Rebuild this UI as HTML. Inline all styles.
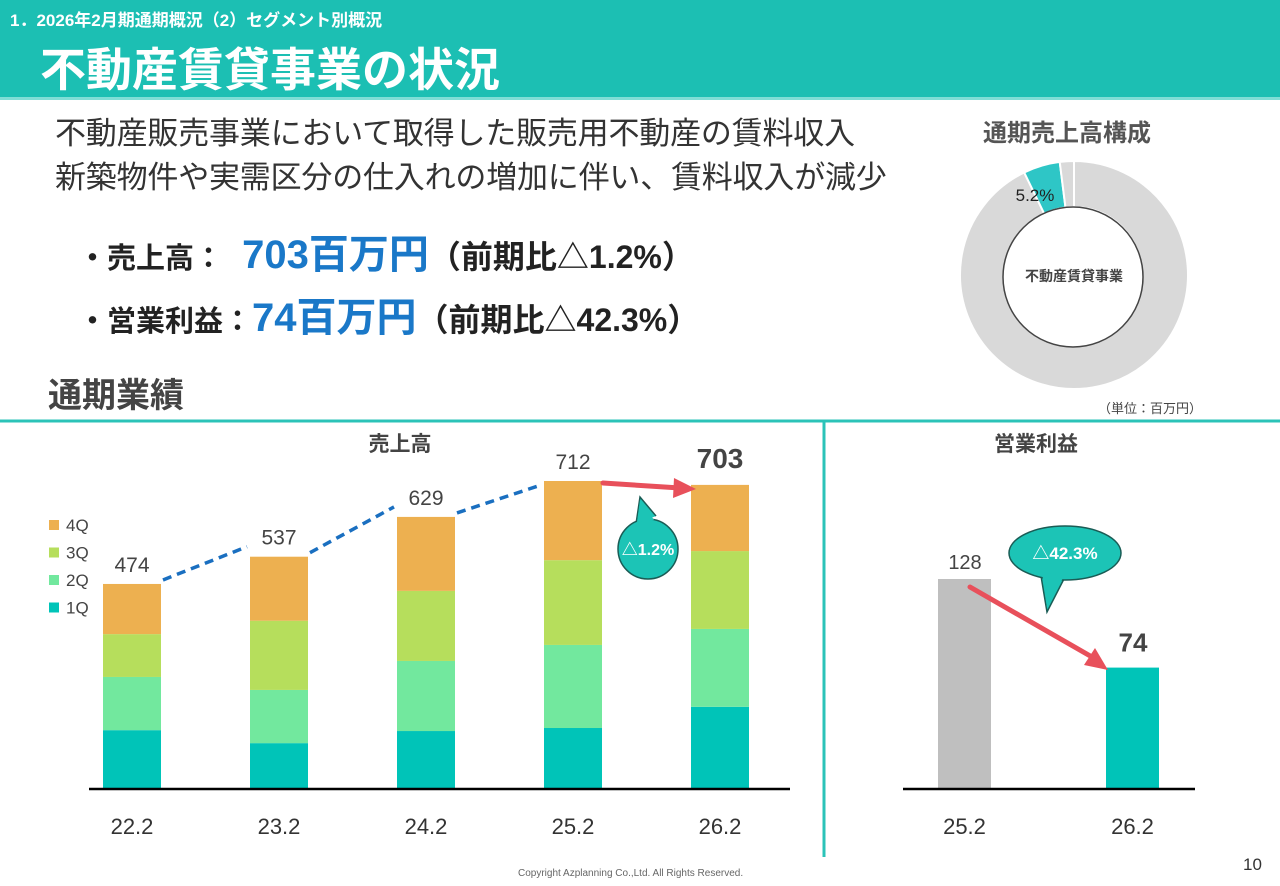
<!DOCTYPE html>
<html><head><meta charset="utf-8"><style>
body{margin:0;width:1280px;height:886px;overflow:hidden;background:#fff;font-family:"Liberation Sans","Noto Sans CJK JP",sans-serif;position:relative}
.hdr{position:absolute;left:0;top:0;width:1280px;height:100px;background:#1cbfb3;border-bottom:3px solid #7fded6;box-sizing:border-box}
.abs{position:absolute;white-space:nowrap}
</style></head><body>
<div class="hdr"></div>
<div class="abs" style="left:10px;top:6px;font-size:17px;font-weight:bold;color:#fff">1．2026年2月期通期概況（2）セグメント別概況</div>
<div class="abs" style="left:40px;top:34px;font-size:46px;font-weight:bold;color:#fff">不動産賃貸事業の状況</div>
<div class="abs" style="left:55px;top:112px;font-size:31px;color:#333;line-height:44px;letter-spacing:-0.2px">不動産販売事業において取得した販売用不動産の賃料収入<br>新築物件や実需区分の仕入れの増加に伴い、賃料収入が減少</div>
<div class="abs" style="left:78px;top:222px;font-size:29px;font-weight:bold;color:#222">・売上高： <span style="color:#1a78c8;font-size:40px">&nbsp;703百万円</span><span style="font-size:32px">（前期比△1.2%）</span></div>
<div class="abs" style="left:78px;top:285px;font-size:29px;font-weight:bold;color:#222">・営業利益：<span style="color:#1a78c8;font-size:40px">74百万円</span><span style="font-size:32px">（前期比△42.3%）</span></div>
<div class="abs" style="left:48px;top:368px;font-size:34px;font-weight:bold;color:#444">通期業績</div>
<div class="abs" style="left:983px;top:113px;font-size:24px;font-weight:bold;color:#555">通期売上高構成</div>
<div class="abs" style="left:1098px;top:398px;font-size:13px;color:#444">（単位：百万円）</div>
<div class="abs" style="left:518px;top:868px;font-size:10px;color:#666">Copyright Azplanning Co.,Ltd. All Rights Reserved.</div>
<div class="abs" style="left:1243px;top:855px;font-size:17px;color:#333">10</div>
<svg id="chart" width="1280" height="886" style="position:absolute;left:0;top:0">
<line x1="0" y1="421" x2="1280" y2="421" stroke="#2bc3b8" stroke-width="3"/>
<line x1="824" y1="421" x2="824" y2="857" stroke="#2bc3b8" stroke-width="3"/>
</svg>
<script>
const years=["22.2","23.2","24.2","25.2","26.2"];
const q1=[136,106,134,141,190];
const q2=[123,123,162,192,180];
const q3=[99,160,162,196,180];
const q4=[116,148,171,183,153];
const totals=[474,537,629,712,703];
const opYears=["25.2","26.2"];
const opValues=[128,74];
const donutShares=[92.8,5.2,2.0];
const NS="http://www.w3.org/2000/svg";
const svg=document.getElementById('chart');
function mk(t,a){const e=document.createElementNS(NS,t);for(const k in a)e.setAttribute(k,a[k]);svg.appendChild(e);return e;}
const base=789;
const xL=i=>103+i*147, bw=58;
const yL=v=>base-v*308/712;
const cols=["#00c4b8","#72e89e","#b6de5c","#edb050"];
const series=[q1,q2,q3,q4];
years.forEach((y,i)=>{let acc=0;series.forEach((s,k)=>{const r=mk('rect',{x:xL(i),y:yL(acc+s[i]),width:bw,height:yL(acc)-yL(acc+s[i]),fill:cols[k]});

acc+=s[i];});
const t=mk('text',{x:xL(i)+bw/2,y:yL(totals[i])-(i==4?17:12),'text-anchor':'middle','font-size':i==4?28:21,'font-weight':i==4?'bold':'normal',fill:'#444'});t.textContent=totals[i];


const c=mk('text',{x:xL(i)+bw/2,y:834,'text-anchor':'middle','font-size':22,fill:'#333'});c.textContent=y;


if(i<3){const l=mk('line',{x1:xL(i)+bw+2,y1:yL(totals[i])-4,x2:xL(i+1)-3,y2:yL(totals[i+1])+(i==2?4:-10),stroke:'#1a6fc0','stroke-width':3.5,'stroke-dasharray':'9,6'});

}
});
mk('line',{x1:89,y1:base,x2:790,y2:base,stroke:'#000','stroke-width':2.5});
const lg=["4Q","3Q","2Q","1Q"];
lg.forEach((n,k)=>{mk('rect',{x:49,y:520+k*27.5,width:10,height:10,fill:cols[3-k]});const t=mk('text',{x:66,y:531+k*27.5,'font-size':17,fill:'#444'});t.textContent=n;

});
const tt=mk('text',{x:400,y:451,'text-anchor':'middle','font-size':21,'font-weight':'bold',fill:'#444'});tt.textContent='売上高';
mk('path',{d:'M636,524 L640,497 L656,516',fill:'#1cc4b6',stroke:'#1a5c55','stroke-width':1.5});
mk('circle',{cx:648,cy:549,r:30,fill:'#1cc4b6',stroke:'#1a5c55','stroke-width':1.5});
mk('path',{d:'M637,522 L640,500 L654,520Z',fill:'#1cc4b6'});
let ct=mk('text',{x:648,y:555,'text-anchor':'middle','font-size':16,'font-weight':'bold',fill:'#fff'});ct.textContent='△1.2%';
mk('line',{x1:603,y1:483,x2:680,y2:488,stroke:'#e8505b','stroke-width':5,'stroke-linecap':'round'});
mk('path',{d:'M674,478 L696,489 L673,498Z',fill:'#e8505b'});
const base2=789,yR=v=>base2-v*210/128,xR=i=>938+i*168,bw2=53;
const t2=mk('text',{x:1036,y:451,'text-anchor':'middle','font-size':21,'font-weight':'bold',fill:'#444'});t2.textContent='営業利益';
opYears.forEach((y,i)=>{const r=mk('rect',{x:xR(i),y:yR(opValues[i]),width:bw2,height:base2-yR(opValues[i]),fill:i==0?'#bfbfbf':'#00c4b8'});


const v=mk('text',{x:xR(i)+27,y:yR(opValues[i])-(i==0?10:16),'text-anchor':'middle','font-size':i==0?20:26,'font-weight':i==0?'normal':'bold',fill:'#444'});v.textContent=opValues[i];
const c=mk('text',{x:xR(i)+bw2/2,y:834,'text-anchor':'middle','font-size':22,fill:'#333'});c.textContent=y;

});
mk('line',{x1:903,y1:base2,x2:1195,y2:base2,stroke:'#000','stroke-width':2.5});
mk('path',{d:'M1040,570 L1047,612 L1066,575',fill:'#1cc4b6',stroke:'#1a5c55','stroke-width':1.5});
mk('ellipse',{cx:1065,cy:553,rx:56,ry:27,fill:'#1cc4b6',stroke:'#1a5c55','stroke-width':1.5});
mk('path',{d:'M1042,572 L1047,608 L1064,576Z',fill:'#1cc4b6'});
ct=mk('text',{x:1065,y:559,'text-anchor':'middle','font-size':17,'font-weight':'bold',fill:'#fff'});ct.textContent='△42.3%';
mk('line',{x1:970,y1:587,x2:1092,y2:657,stroke:'#e8505b','stroke-width':5,'stroke-linecap':'round'});
mk('path',{d:'M1084,665 L1108,670 L1095,648Z',fill:'#e8505b'});
const cx=1074,cy=275,R=114,r0=68;
const dcols=['#d9d9d9','#2ec6c6','#d9d9d9'];
let a=0;donutShares.forEach((s,k)=>{const a1=a*3.6*Math.PI/180,a2=(a+s)*3.6*Math.PI/180;const p=(ang,rr)=>[cx+rr*Math.sin(ang),cy-rr*Math.cos(ang)];
const [x1,y1]=p(a1,R),[x2,y2]=p(a2,R),[x3,y3]=p(a2,r0),[x4,y4]=p(a1,r0);const lf=s>50?1:0;
const e=mk('path',{d:`M${x1},${y1} A${R},${R} 0 ${lf} 1 ${x2},${y2} L${x3},${y3} A${r0},${r0} 0 ${lf} 0 ${x4},${y4}Z`,fill:dcols[k],stroke:'#fff','stroke-width':2});

a+=s;});
mk('circle',{cx:cx-1,cy:cy+2,r:70,fill:'#fff',stroke:'#444','stroke-width':1.5});
let dt=mk('text',{x:cx,y:281,'text-anchor':'middle','font-size':14,'font-weight':'bold',fill:'#444'});dt.textContent='不動産賃貸事業';
dt=mk('text',{x:1035,y:201,'text-anchor':'middle','font-size':17,fill:'#222'});dt.textContent='5.2%';
</script>
</body></html>
